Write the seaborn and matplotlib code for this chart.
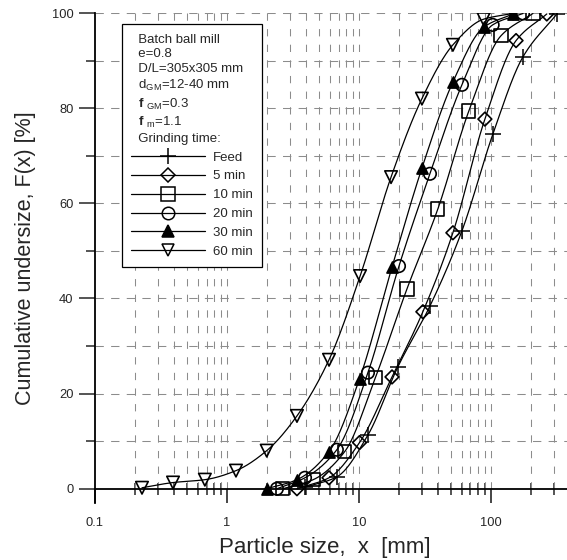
import numpy as np
import pandas as pd
import matplotlib
matplotlib.use("Agg")
import matplotlib.pyplot as plt
import seaborn as sns
from matplotlib.lines import Line2D
from matplotlib.ticker import FixedLocator, FuncFormatter, NullFormatter

# ---------------- data ----------------
feed_x = [3.9, 6.8, 11.7, 19.7, 34.5, 60.3, 103.6, 175, 316]
feed_y = [0.3, 2.5, 11.3, 25.6, 38.4, 54.2, 74.6, 90.8, 99.8]

m5_x = [3.39, 5.93, 10.1, 17.8, 30.5, 51.5, 90, 155, 265]
m5_y = [0.0, 2.3, 9.7, 23.5, 37.2, 53.8, 77.7, 94.2, 99.8]

m10_x = [2.65, 4.5, 7.8, 13.3, 23.1, 39.6, 68, 119, 208]
m10_y = [0.0, 1.9, 7.8, 23.3, 42.0, 58.8, 79.4, 95.2, 99.9]

m20_x = [2.39, 3.9, 6.8, 11.7, 20.1, 34.5, 60.3, 103, 175]
m20_y = [0.0, 2.3, 8.2, 24.4, 46.8, 66.2, 84.9, 97.5, 99.9]

m30_x = [2.0, 3.39, 5.93, 10.1, 17.8, 30, 51.5, 88, 147]
m30_y = [0.0, 1.9, 7.8, 23.1, 46.6, 67.4, 85.5, 97.0, 99.8]

m60_x = [0.227, 0.39, 0.68, 1.17, 2.0, 3.39, 5.93, 10.2, 17.5, 30, 51.5, 88, 147]
m60_y = [0.2, 1.3, 1.9, 3.8, 8.0, 15.3, 27.1, 44.7, 65.5, 82.0, 93.3, 98.7, 99.9]

series_names = ["Feed", "5 min", "10 min", "20 min", "30 min", "60 min"]
x_ticks_major = [0.1, 1, 10, 100]
y_ticks_major = [0, 20, 40, 60, 80, 100]

info_lines = [
    "Batch ball mill",
    "e=0.8",
    "D/L=305x305 mm",
    r"d$_{\mathrm{GM}}$=12-40 mm",
    r"$\mathbf{f}\ {}_{\mathrm{GM}}$=0.3",
    r"$\mathbf{f}\ {}_{\mathrm{m}}$=1.1",
    "Grinding time:",
]

# ---------------- styling ----------------
sns.set_style("white")
plt.rcParams["font.family"] = ["Liberation Sans", "DejaVu Sans"]
plt.rcParams["mathtext.fontset"] = "custom"
plt.rcParams["mathtext.rm"] = "Liberation Sans"
plt.rcParams["mathtext.it"] = "Liberation Sans:italic"
plt.rcParams["mathtext.bf"] = "Liberation Sans:bold"

styles = {
    "Feed":   dict(marker="+", ms=11, mfc="black"),
    "5 min":  dict(marker="D", ms=7, mfc="none"),
    "10 min": dict(marker="s", ms=9.5, mfc="none"),
    "20 min": dict(marker="o", ms=9, mfc="none"),
    "30 min": dict(marker="^", ms=8, mfc="black"),
    "60 min": dict(marker="v", ms=9, mfc="none"),
}


def pchip(x, y, xn):
    x = np.asarray(x, float)
    y = np.asarray(y, float)
    h = np.diff(x)
    d = np.diff(y) / h
    n = len(x)
    m = np.zeros(n)
    for k in range(1, n - 1):
        if d[k - 1] * d[k] > 0:
            w1 = 2 * h[k] + h[k - 1]
            w2 = h[k] + 2 * h[k - 1]
            m[k] = (w1 + w2) / (w1 / d[k - 1] + w2 / d[k])
    m[0] = d[0]
    m[-1] = d[-1]
    idx = np.clip(np.searchsorted(x, xn) - 1, 0, n - 2)
    t = (xn - x[idx]) / h[idx]
    h00 = 2 * t**3 - 3 * t**2 + 1
    h10 = t**3 - 2 * t**2 + t
    h01 = -2 * t**3 + 3 * t**2
    h11 = t**3 - t**2
    return h00 * y[idx] + h10 * h[idx] * m[idx] + h01 * y[idx + 1] + h11 * h[idx] * m[idx + 1]


fig = plt.figure(figsize=(5.67, 5.6), dpi=100)
ax = fig.add_axes([95 / 567, 57 / 560, 472 / 567, 490 / 560])

all_series = [
    ("Feed", feed_x, feed_y),
    ("5 min", m5_x, m5_y),
    ("10 min", m10_x, m10_y),
    ("20 min", m20_x, m20_y),
    ("30 min", m30_x, m30_y),
    ("60 min", m60_x, m60_y),
]

for name, xs, ys in all_series:
    lx = np.log10(xs)
    xn = np.linspace(lx[0], lx[-1], 300)
    yn = pchip(lx, ys, xn)
    curve = pd.DataFrame({"x": 10 ** xn, "y": yn})
    sns.lineplot(data=curve, x="x", y="y", ax=ax, color="black", lw=0.9,
                 sort=False, estimator=None, zorder=3)
    pts = pd.DataFrame({"x": xs, "y": ys})
    st = styles[name]
    if st["marker"] == "+":
        sns.scatterplot(data=pts, x="x", y="y", ax=ax, marker="+", s=st["ms"] ** 2,
                        color="black", linewidth=1.1, zorder=4)
    else:
        sns.scatterplot(data=pts, x="x", y="y", ax=ax, marker=st["marker"],
                        s=st["ms"] ** 2, facecolor=st["mfc"], edgecolor="black",
                        linewidth=1.2, zorder=4)

ax.set_xscale("log")
ax.set_xlim(0.1, 377)
ax.set_ylim(-3, 100)

# grid
minor_x = [k * 10.0 ** e for e in range(-1, 3) for k in range(2, 10)]
grid_x = [v for v in x_ticks_major + minor_x if 0.1 < v < 377]
ax.vlines(grid_x, 0, 100, colors="#8c8c8c", linestyles=(0, (7, 8)), lw=0.75, zorder=1)
for yv in range(10, 101, 10):
    ax.axhline(yv, color="#8c8c8c", ls=(0, (8, 7)), lw=0.75, zorder=1)

# spines
for s in ["top", "right"]:
    ax.spines[s].set_visible(False)
ax.spines["bottom"].set_position(("data", 0))
ax.spines["left"].set_linewidth(1.3)
ax.spines["bottom"].set_linewidth(1.3)
ax.spines["left"].set_color("black")
ax.spines["bottom"].set_color("black")

ax.xaxis.set_major_locator(FixedLocator(x_ticks_major))
ax.xaxis.set_minor_locator(FixedLocator(minor_x))
ax.xaxis.set_major_formatter(FuncFormatter(lambda v, p: f"{v:g}"))
ax.xaxis.set_minor_formatter(NullFormatter())
ax.yaxis.set_major_locator(FixedLocator(y_ticks_major))
ax.yaxis.set_minor_locator(FixedLocator([10, 30, 50, 70, 90]))

ax.tick_params(axis="x", which="major", direction="out", length=10, width=1.2,
               pad=10, labelsize=9.3, bottom=True)
ax.tick_params(axis="x", which="minor", direction="inout", length=9, width=1.1,
               bottom=True)
ax.tick_params(axis="y", which="major", direction="out", length=11.5, width=1.1,
               pad=4, labelsize=9.3, left=True)
ax.tick_params(axis="y", which="minor", direction="out", length=6.5, width=1.1,
               left=True)

ax.set_xlabel("Particle size,  x  [mm]", fontsize=16)
ax.set_ylabel("Cumulative undersize, F(x) [%]", fontsize=15.5)
ax.xaxis.set_label_coords(0.487, -0.07)
ax.yaxis.set_label_coords(-0.125, 0.5)

handles = []
for name in series_names:
    st = styles[name]
    handles.append(Line2D([], [], color="black", lw=0.9, marker=st["marker"],
                          ms=st["ms"], mfc=st["mfc"], mec="black", mew=1.1))

title_text = "\n".join("  " + s for s in info_lines)
leg = ax.legend(handles, series_names, title=title_text,
                loc="upper left", bbox_to_anchor=(0.057, 0.977),
                fontsize=9.5, title_fontsize=9.5, alignment="left",
                handlelength=5.6, handletextpad=0.6, labelspacing=0.5,
                borderpad=0.7, borderaxespad=0, frameon=True, fancybox=False,
                framealpha=1, edgecolor="black")
leg.get_frame().set_linewidth(0.9)
leg.set_zorder(10)
leg.get_title().set_linespacing(1.3)

fig.savefig("out.png", dpi=100)
